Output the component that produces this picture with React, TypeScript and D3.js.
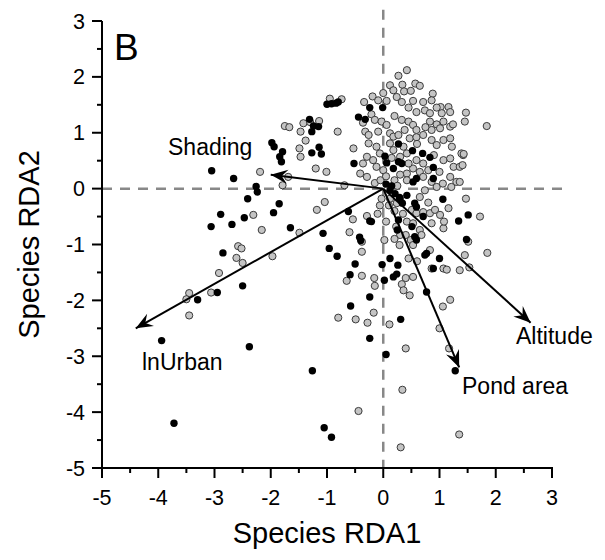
import React from "react";
import * as d3 from "d3";

const xTicks = [-5, -4, -3, -2, -1, 0, 1, 2, 3];
const yTicks = [-5, -4, -3, -2, -1, 0, 1, 2, 3];

// Environmental vectors
const vectorNames = ["Shading", "lnUrban", "Pond area", "Altitude"];
const vectorX = [-2.0, -4.4, 1.35, 2.62];
const vectorY = [0.25, -2.5, -3.2, -2.4];

const blackSites: [number, number][] = [
  [-3.72, -4.2], [-1.05, -4.28], [-0.92, -4.45],
  [-3.05, 0.32], [-2.66, 0.18], [-2.26, 0.04], [-2.24, -0.06], [-2.41, -0.18], [-1.85, -0.27], [-1.95, -0.43], [-2.47, -0.52], [-2.89, -0.46], [-3.06, -0.68], [-2.69, -0.64], [-1.65, -0.70], [-2.85, -1.15], [-2.50, -1.74], [-2.95, -1.86], [-3.30, -1.99], [-3.94, -2.72], [-2.38, -2.83],
  [-1.98, 0.82], [-1.94, 0.75], [-1.79, 0.66], [-1.84, 0.57], [-1.81, 0.48],
  [-1.0, 1.51], [-0.92, 1.52], [-0.84, 1.53], [-0.8, 1.55],
  [-1.31, 1.24], [-1.24, 1.12], [-1.27, 1.02], [-1.15, 1.11],
  [-1.27, 0.64], [-1.14, 0.74], [-1.1, 0.62],
  [-0.44, 1.28], [-0.32, 1.24], [-0.52, 0.45], [-0.24, 1.45], [-0.01, 1.45],
  [0.27, 0.8], [0.52, 0.68], [0.70, 0.63], [0.83, 0.56], [0.89, 0.38], [0.89, 0.18],
  [0.03, 0.58], [0.06, 0.46], [0.18, 0.36], [0.27, 0.48], [0.33, 0.45],
  [0.53, 0.12], [0.59, 0.18],
  [0.12, -0.03], [0.21, -0.09], [0.30, -0.18], [0.34, -0.26], [0.05, 0.08], [0.15, 0.05],
  [-1.07, -0.80], [-0.96, -1.07], [-0.82, -1.21], [-0.62, -0.41], [-0.42, -0.87], [-0.40, -0.93], [-0.24, -0.58], [-0.21, -0.59],
  [-0.50, -1.35], [-0.59, -1.54], [-0.24, -1.94], [-0.58, -2.10],
  [-0.02, -1.36], [0.12, -1.25], [0.26, -1.37], [0.18, -1.58], [0.02, -1.64], [0.24, -1.53],
  [0.31, -2.34], [0.27, -0.56], [0.25, -0.74],
  [0.51, -0.68], [0.56, -0.86], [0.59, -0.92], [0.77, -1.16], [0.74, -1.19], [1.0, -1.25], [0.89, -1.43], [0.77, -1.85],
  [1.06, -0.19], [1.34, -0.58], [1.51, -0.47], [1.48, -0.91],
  [0.29, -0.16], [0.42, -0.12], [0.56, -0.26], [0.59, -0.33], [0.71, -0.5],
  [-0.24, -2.68], [0.05, -2.97], [-1.26, -3.26], [1.28, -3.26],
];

const greySites: [number, number][] = [
  [0.42, 2.12], [0.27, 2.02],
  [0.12, 1.85], [0.34, 1.86], [0.57, 1.88], [0.65, 1.84],
  [0, 1.71], [0.18, 1.76], [0.37, 1.74], [0.49, 1.75],
  [-0.19, 1.65], [-0.09, 1.58], [0.06, 1.57], [-0.34, 1.55],
  [0.24, 1.64], [0.33, 1.55], [0.53, 1.57], [0.71, 1.55], [0.88, 1.70], [0.86, 1.58],
  [1.02, 1.46], [1.16, 1.46], [1.19, 1.37], [1.04, 1.35], [1.47, 1.36], [1.45, 1.2], [1.84, 1.12],
  [0.59, 1.37], [0.74, 1.4], [0.83, 1.35],
  [-0.21, 1.33], [-0.15, 1.23], [-0.03, 1.20], [0.06, 1.14],
  [0.33, 1.23], [0.45, 1.2], [0.53, 1.14], [0.59, 1.05],
  [0.83, 1.2], [0.95, 1.15], [1.07, 1.2], [1.01, 1.08], [0.86, 1.05], [1.19, 1.11], [1.24, 1.15],
  [-0.36, 1.18], [-0.32, 1.02], [-0.26, 0.96],
  [-0.09, 1.02], [0.12, 0.99], [0.18, 0.93], [0.27, 0.96],
  [0.38, 1.05], [0.47, 0.9], [0.59, 0.92], [0.71, 0.96],
  [0.86, 0.87], [0.95, 0.78], [1.07, 0.87], [1.19, 0.9], [1.22, 0.75],
  [1.42, 0.6], [1.07, 0.51], [1.19, 0.54], [1.25, 0.39], [1.36, 0.39], [1.19, 0.21], [1.30, 0.12], [1.21, 0.03],
  [-0.26, 0.81], [-0.12, 0.75], [-0.06, 0.63], [-0.29, 0.57], [-0.18, 0.51], [-0.36, 0.45], [-0.12, 0.39], [0, 0.33], [-0.41, 0.27], [-0.29, 0.21],
  [-0.53, 0.72],
  [0.12, 0.81], [0.18, 0.69], [0.36, 0.75], [0.42, 0.63], [0.3, 0.57],
  [0.59, 0.51], [0.71, 0.45], [0.53, 0.36], [0.65, 0.3], [0.42, 0.27], [0.71, 0.21], [0.42, 0.15], [0.86, 0.12], [0.95, 0.03], [0.74, -0.03],
  [-1.75, 1.12], [-1.67, 1.1], [-1.42, 1.17], [-1.47, 1.02], [-1.14, 1.21], [-1.3, 1.19], [-0.81, 1.02], [-1.38, 0.86], [-1.49, 0.72], [-1.47, 0.57], [-1.2, 0.36], [-1.01, 0.3], [-2.19, 0.3], [-1.79, 0.06], [-1.69, 0.21], [-0.69, 0.06],
  [-0.95, 1.61], [-0.74, 1.60],
  [-2.31, -0.47], [-2.16, -0.74], [-1.49, -0.79], [-2.58, -1.03], [-2.52, -1.07], [-2.61, -1.24], [-2.50, -1.33], [-1.97, -1.21], [-2.92, -1.51], [-3.45, -1.87], [-3.50, -1.98], [-3.06, -1.86], [-3.45, -2.27],
  [-1.18, -0.38], [-1.04, -0.24],
  [-0.54, -0.55], [-0.60, -0.78], [-0.38, -0.95], [-0.38, -1.13], [-0.65, -1.65], [-0.38, -1.56], [-0.80, -2.31], [-0.49, -2.34], [-0.28, -2.40], [-0.17, -2.22], [-0.15, -1.74], [-0.16, -1.60],
  [-0.29, -0.49], [0.05, -0.59], [0.02, -0.92],
  [-0.06, -0.30], [-0.03, -0.18], [0.12, -0.18], [0.24, -0.26],
  [0.23, -0.68], [0.30, -0.83], [0.42, -0.59], [0.40, -0.83], [0.49, -0.92], [0.53, -1.01], [0.29, -1.01],
  [0.51, -0.38], [0.59, -0.44], [0.71, -0.42], [0.83, -0.44], [0.92, -0.38], [1.01, -0.47], [0.86, -0.62], [1.07, -0.71], [0.65, -0.74], [0.53, -0.62],
  [0.68, -0.83], [0.83, -1.10],
  [0.86, -1.43], [1.07, -1.43], [1.13, -1.45], [1.36, -1.46], [1.53, -1.41],
  [1.19, -1.99], [1.06, -2.11],
  [0.53, -1.58], [0.40, -1.60], [0.33, -1.71], [0.36, -1.82], [0.47, -1.91],
  [1.06, 0.09], [1.36, 0.12], [1.47, -0.18], [1.72, -0.5], [1.85, -1.15], [1.51, -0.95], [1.45, -1.19],
  [0.11, -2.43],
  [1.0, -2.50], [1.17, -2.86], [0.40, -2.86], [0.34, -3.60], [-0.44, -3.98], [1.35, -4.40], [0.31, -4.63],
  [1.39, 0.63], [1.43, 0.62], [1.41, 0.42], [1.16, -0.35], [1.08, -0.59],
  [-0.15, 0.1], [-0.05, 0.15], [0.05, 0.22], [0.2, 0.15], [0.3, 0.25], [0.25, 0.05],
  [0.1, -0.3], [0.2, -0.4], [-0.1, -0.45], [0.35, -0.45],
  [0.45, 0.45], [0.8, 0.33], [1.0, 0.3], [0.9, 0.6], [0.15, 0.55], [0.6, 0.8], [0.75, 1.1], [0.2, 1.3],
  [0.45, 1.45], [0.95, 1.45], [0.65, -0.15], [0.8, -0.25], [0.2, -0.9], [0.45, -1.25], [0.6, -1.3],
];

const W = 605;
const H = 560;
const FONT = "Arial, 'Liberation Sans', sans-serif";

export default function App() {
  const x = d3.scaleLinear().domain([-5, 3]).range([102, 552]);
  const y = d3.scaleLinear().domain([-5, 3]).range([468, 21]);
  const minorX = d3.range(-4.5, 3, 1);
  const minorY = d3.range(-4.5, 3, 1);

  const arrowHead = (x2: number, y2: number) => {
    const x0 = x(0), y0 = y(0);
    const ang = Math.atan2(y2 - y0, x2 - x0);
    const L = 17, Wd = 7, N = 11;
    const pt = (a: number, b: number) => {
      const px = x2 - a * Math.cos(ang) - b * Math.sin(ang);
      const py = y2 - a * Math.sin(ang) + b * Math.cos(ang);
      return `${px},${py}`;
    };
    return `M${pt(0, 0)} L${pt(L, Wd)} L${pt(N, 0)} L${pt(L, -Wd)} Z`;
  };

  return (
    <svg width={W} height={H} style={{ position: "absolute", left: 0, top: 0, background: "#fff" }} fontFamily={FONT}>
      <line x1={x(0)} x2={x(0)} y1={y(3.2)} y2={y(-5)} stroke="#888" strokeWidth={2.5} strokeDasharray="10,8" />
      <line x1={x(-5)} x2={x(3.25)} y1={y(0)} y2={y(0)} stroke="#888" strokeWidth={2.5} strokeDasharray="10,8" />

      {greySites.map((d, i) => (
        <circle key={"g" + i} cx={x(d[0])} cy={y(d[1])} r={3.6} fill="#c4c4c4" stroke="#3a3a3a" strokeWidth={1} />
      ))}
      {blackSites.map((d, i) => (
        <circle key={"b" + i} cx={x(d[0])} cy={y(d[1])} r={3.7} fill="#000" />
      ))}

      {vectorNames.map((n, i) => {
        const x2 = x(vectorX[i]), y2 = y(vectorY[i]);
        return (
          <g key={n}>
            <line x1={x(0)} y1={y(0)} x2={x2} y2={y2} stroke="#000" strokeWidth={2} />
            <path d={arrowHead(x2, y2)} fill="#000" />
          </g>
        );
      })}

      <text x={168} y={155} fontSize={23}>Shading</text>
      <text x={142} y={370} fontSize={23}>lnUrban</text>
      <text x={462} y={394} fontSize={23}>Pond area</text>
      <text x={516} y={344} fontSize={23}>Altitude</text>

      <line x1={x(-5)} x2={x(-5)} y1={y(3)} y2={y(-5) + 1} stroke="#000" strokeWidth={2} />
      <line x1={x(-5) - 1} x2={x(3) + 1} y1={y(-5)} y2={y(-5)} stroke="#000" strokeWidth={2} />
      {xTicks.map((t) => (
        <g key={"xt" + t}>
          <line x1={x(t)} x2={x(t)} y1={y(-5)} y2={y(-5) + 10} stroke="#000" strokeWidth={2} />
          <text x={x(t)} y={y(-5) + 37} fontSize={21.5} textAnchor="middle">{t}</text>
        </g>
      ))}
      {minorX.map((t) => (
        <line key={"xm" + t} x1={x(t)} x2={x(t)} y1={y(-5)} y2={y(-5) + 5} stroke="#000" strokeWidth={2} />
      ))}
      {yTicks.map((t) => (
        <g key={"yt" + t}>
          <line x1={x(-5) - 10} x2={x(-5)} y1={y(t)} y2={y(t)} stroke="#000" strokeWidth={2} />
          <text x={x(-5) - 17} y={y(t) + 7.5} fontSize={21.5} textAnchor="end">{t}</text>
        </g>
      ))}
      {minorY.map((t) => (
        <line key={"ym" + t} x1={x(-5) - 5} x2={x(-5)} y1={y(t)} y2={y(t)} stroke="#000" strokeWidth={2} />
      ))}

      <text x={(x(-5) + x(3)) / 2} y={543} fontSize={29} textAnchor="middle">Species RDA1</text>
      <text transform={`translate(39, ${(y(3) + y(-5)) / 2}) rotate(-90)`} fontSize={29} textAnchor="middle">Species RDA2</text>
      <text x={114} y={60} fontSize={37}>B</text>
    </svg>
  );
}
